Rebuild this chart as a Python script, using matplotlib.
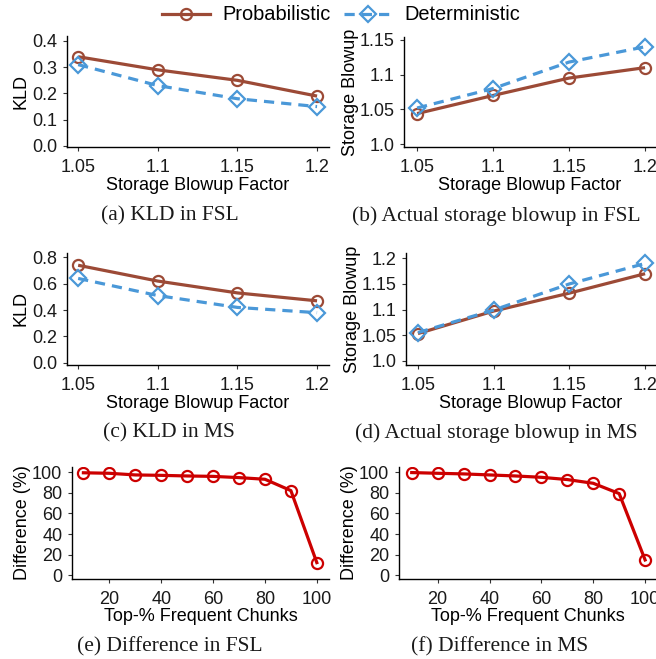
import matplotlib
matplotlib.use("Agg")
import matplotlib.pyplot as plt
from matplotlib.lines import Line2D

plt.rcParams['font.family'] = ['Liberation Sans', 'DejaVu Sans']

blowup = [1.05, 1.1, 1.15, 1.2]
blowup_ticks = ["1.05", "1.1", "1.15", "1.2"]

kld_fsl_prob = [0.34, 0.29, 0.25, 0.19]
kld_fsl_det = [0.31, 0.23, 0.18, 0.15]
sb_fsl_prob = [1.044, 1.07, 1.095, 1.11]
sb_fsl_det = [1.052, 1.08, 1.118, 1.14]
kld_ms_prob = [0.74, 0.62, 0.53, 0.47]
kld_ms_det = [0.64, 0.51, 0.42, 0.38]
sb_ms_prob = [1.053, 1.097, 1.132, 1.17]
sb_ms_det = [1.055, 1.099, 1.15, 1.19]

top_pct = [10, 20, 30, 40, 50, 60, 70, 80, 90, 100]
diff_fsl = [99.5, 99.0, 97.4, 97.0, 96.4, 96.0, 94.8, 93.2, 82.2, 12.3]
diff_ms = [99.7, 99.0, 98.4, 97.4, 96.4, 95.1, 92.9, 89.3, 79.3, 14.9]

BROWN = "#9C4A36"
BLUE = "#4A98D8"
RED = "#CC0000"

W, H = 656, 659
fig = plt.figure(figsize=(W / 100, H / 100), dpi=100)

FS = 13
CAP_FS = 15.5


def add_ax(left, top, right, bottom):
    return fig.add_axes([left / W, 1 - bottom / H, (right - left) / W, (bottom - top) / H])


def style(ax):
    for s in ["top", "right"]:
        ax.spines[s].set_visible(False)
    for s in ["left", "bottom"]:
        ax.spines[s].set_linewidth(1.0)
        ax.spines[s].set_color("black")
    ax.tick_params(axis="both", length=3, width=0.8, color="#333333",
                   labelsize=FS, labelcolor="#1a1a1a")
    ax.tick_params(axis="x", pad=5.5)
    ax.tick_params(axis="y", pad=4)


def pair_plot(ax, prob, det):
    ax.plot(blowup, prob, color=BROWN, lw=2.3, marker="o", ms=8, mfc="none",
            mec=BROWN, mew=1.6, solid_capstyle="butt")
    ax.plot(blowup, det, color=BLUE, lw=2.3, ls=(0, (3.2, 2.2)), marker="D", ms=8.5,
            mfc="none", mec=BLUE, mew=1.6)
    ax.set_xticks(blowup)
    ax.set_xticklabels(blowup_ticks)
    ax.set_xlabel("Storage Blowup Factor", fontsize=FS, labelpad=1)


# (a)
ax = add_ax(67, 36, 329, 147)
style(ax)
pair_plot(ax, kld_fsl_prob, kld_fsl_det)
ax.set_xlim(1.043, 1.2075)
ax.set_ylim(-0.004, 0.419)
ax.set_yticks([0.0, 0.1, 0.2, 0.3, 0.4])
ax.set_yticklabels(["0.0", "0.1", "0.2", "0.3", "0.4"])
ax.set_ylabel("KLD", fontsize=FS, labelpad=2)

# (b)
ax = add_ax(404, 37, 656, 147)
style(ax)
pair_plot(ax, sb_fsl_prob, sb_fsl_det)
ax.set_xlim(1.0414, 1.2072)
ax.set_ylim(0.996, 1.154)
ax.set_yticks([1.0, 1.05, 1.1, 1.15])
ax.set_yticklabels(["1.0", "1.05", "1.1", "1.15"])
ax.set_ylabel("Storage Blowup", fontsize=FS, labelpad=0)

# (c)
ax = add_ax(67, 253, 329, 365)
style(ax)
pair_plot(ax, kld_ms_prob, kld_ms_det)
ax.set_xlim(1.043, 1.2075)
ax.set_ylim(-0.017, 0.833)
ax.set_yticks([0.0, 0.2, 0.4, 0.6, 0.8])
ax.set_yticklabels(["0.0", "0.2", "0.4", "0.6", "0.8"])
ax.set_ylabel("KLD", fontsize=FS, labelpad=2)

# (d)
ax = add_ax(406, 253, 656, 365)
style(ax)
pair_plot(ax, sb_ms_prob, sb_ms_det)
ax.set_xlim(1.0421, 1.2072)
ax.set_ylim(0.9916, 1.2104)
ax.set_yticks([1.0, 1.05, 1.1, 1.15, 1.2])
ax.set_yticklabels(["1.0", "1.05", "1.1", "1.15", "1.2"])
ax.set_ylabel("Storage Blowup", fontsize=FS, labelpad=0)


def diff_plot(ax, vals):
    ax.plot(top_pct, vals, color=RED, lw=2.3, marker="o", ms=8, mfc="none",
            mec=RED, mew=1.6)
    ax.set_xticks([20, 40, 60, 80, 100])
    ax.set_yticks([0, 20, 40, 60, 80, 100])
    ax.set_ylim(-3.6, 105.1)
    ax.set_xlabel("Top-% Frequent Chunks", fontsize=FS, labelpad=0)
    ax.set_ylabel("Difference (%)", fontsize=FS, labelpad=0.5)


# (e)
ax = add_ax(72, 467, 329, 579)
style(ax)
diff_plot(ax, diff_fsl)
ax.set_xlim(5.6, 104.7)

# (f)
ax = add_ax(399, 467, 656, 579)
style(ax)
diff_plot(ax, diff_ms)
ax.set_xlim(5.1, 104.2)

# captions
caps = [("(a) KLD in FSL", 170, 216), ("(b) Actual storage blowup in FSL", 496, 216),
        ("(c) KLD in MS", 169, 433), ("(d) Actual storage blowup in MS", 496, 433),
        ("(e) Difference in FSL", 170, 647), ("(f) Difference in MS", 500, 647)]
for t, x, y in caps:
    fig.text(x / W, 1 - y / H, t, ha="center", va="center", fontsize=CAP_FS,
             family=["Liberation Serif", "DejaVu Serif"], color="#1a1a1a")

# legend
handles = [
    Line2D([], [], color=BROWN, lw=2.3, marker="o", ms=8, mfc="none", mec=BROWN, mew=1.6),
    Line2D([], [], color=BLUE, lw=2.3, ls=(0, (3.2, 2.2)), marker="D", ms=8.5, mfc="none",
           mec=BLUE, mew=1.6),
]
fig.legend(handles, ["Probabilistic", "Deterministic"], loc="center",
           bbox_to_anchor=(341 / W, 1 - 15 / H), ncol=2, frameon=False,
           fontsize=14.4, handlelength=2.4, columnspacing=0.7, handletextpad=0.6)

fig.savefig("out.png", dpi=100)
